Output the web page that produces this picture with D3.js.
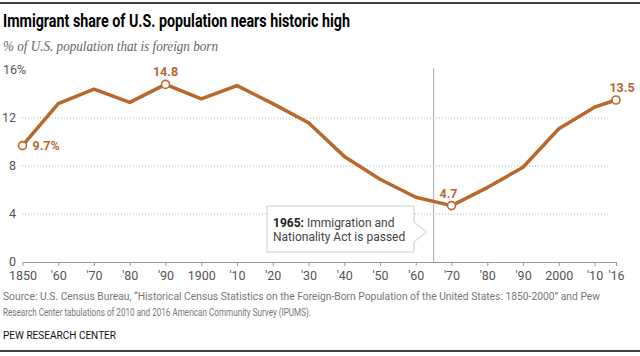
<!DOCTYPE html>
<html>
<head>
<meta charset="utf-8">
<script src="https://cdn.jsdelivr.net/npm/d3@7"></script>
<style>
  html, body { margin: 0; padding: 0; background: #fff; }
  svg { display: block; }
</style>
</head>
<body>
<script>
// ---- Data ----
const years = [1850, 1860, 1870, 1880, 1890, 1900, 1910, 1920, 1930, 1940, 1950, 1960, 1970, 1980, 1990, 2000, 2010, 2016];
const shares = [9.7, 13.2, 14.4, 13.3, 14.8, 13.6, 14.7, 13.2, 11.6, 8.8, 6.9, 5.4, 4.7, 6.2, 7.9, 11.1, 12.9, 13.5];
const xTickLabels = ["1850", "'60", "'70", "'80", "'90", "1900", "'10", "'20", "'30", "'40", "'50", "'60", "'70", "'80", "'90", "2000", "'10", "'16"];
const yTicks = [0, 4, 8, 12, 16];
const yTickLabels = ["0", "4", "8", "12", "16%"];
const labelledYears = [1850, 1890, 1970, 2016];
const labelledTexts = ["9.7%", "14.8", "4.7", "13.5"];
const eventYear = 1965;

const W = 640, H = 356;
const brown = "#b8682c";

const svg = d3.select("body").append("svg").attr("width", W).attr("height", H);

const x = d3.scaleLinear().domain([1850, 2016]).range([22.5, 616]);
const y = d3.scaleLinear().domain([0, 16]).range([262, 70]);

// top & bottom rules
svg.append("line").attr("x1", 0).attr("x2", W).attr("y1", 3).attr("y2", 3).attr("stroke", "#000").attr("stroke-width", 1.5);
svg.append("line").attr("x1", 0).attr("x2", W).attr("y1", 351).attr("y2", 351).attr("stroke", "#000").attr("stroke-width", 1.5);

// Title & subtitle
svg.append("text").attr("x", 3).attr("y", 27)
  .attr("font-family", "Roboto, 'Liberation Sans', sans-serif").attr("font-weight", "bold")
  .attr("font-size", 17.5).attr("fill", "#000")
  .attr("textLength", 347).attr("lengthAdjust", "spacingAndGlyphs")
  .text("Immigrant share of U.S. population nears historic high");
svg.append("text").attr("x", 3).attr("y", 51)
  .attr("font-family", "'Liberation Serif', 'DejaVu Serif', serif").attr("font-style", "italic")
  .attr("font-size", 14).attr("fill", "#666")
  .attr("textLength", 215).attr("lengthAdjust", "spacingAndGlyphs")
  .text("% of U.S. population that is foreign born");

// Gridlines (4, 8, 12)
svg.append("g").selectAll("line").data(yTicks.filter(d => d > 0 && d < 16)).join("line")
  .attr("x1", 22).attr("x2", 610)
  .attr("y1", d => y(d)).attr("y2", d => y(d))
  .attr("stroke", "#b5b5b5").attr("stroke-width", 1).attr("stroke-dasharray", "1,2");

// Y labels
svg.append("g").selectAll("text").data(yTicks).join("text")
  .attr("x", (d, i) => yTickLabels[i].endsWith("%") ? 3 : 16)
  .attr("y", d => y(d)).attr("dy", "0.35em")
  .attr("text-anchor", (d, i) => yTickLabels[i].endsWith("%") ? "start" : "end")
  .attr("font-family", "Roboto, 'Liberation Sans', sans-serif").attr("font-size", 12.5).attr("fill", "#555")
  .text((d, i) => yTickLabels[i]);

// X axis
const xAxis = d3.axisBottom(x).tickValues(years)
  .tickFormat((d, i) => xTickLabels[i]).tickSize(4).tickSizeOuter(0).tickPadding(5);
const gx = svg.append("g").attr("transform", `translate(0,${y(0)})`).call(xAxis);
gx.select(".domain").attr("stroke", "#999");
gx.selectAll(".tick line").attr("stroke", "#999");
gx.selectAll(".tick text").attr("font-family", "Roboto, 'Liberation Sans', sans-serif")
  .attr("font-size", 12.5).attr("fill", "#555");

// Event line 1965
svg.append("line").attr("x1", x(eventYear)).attr("x2", x(eventYear))
  .attr("y1", 68).attr("y2", y(0)).attr("stroke", "#aaa").attr("stroke-width", 1);

// Annotation box with pointer
const bx0 = 267, bx1 = 414, by0 = 206, by1 = 252, tipX = x(eventYear) - 7, tipY = 232;
svg.append("path")
  .attr("d", `M${bx0},${by0} H${bx1} V${tipY - 10} L${tipX},${tipY} L${bx1},${tipY + 10} V${by1} H${bx0} Z`)
  .attr("fill", "#fff").attr("stroke", "#ccc").attr("stroke-width", 1);
const ann = svg.append("text").attr("font-family", "Roboto, 'Liberation Sans', sans-serif")
  .attr("font-size", 12).attr("fill", "#444");
const l1 = ann.append("tspan").attr("x", 273).attr("y", 227);
l1.append("tspan").attr("font-weight", "bold").attr("fill", "#222").text("1965:");
l1.append("tspan").text(" Immigration and");
ann.append("tspan").attr("x", 273).attr("y", 241).text("Nationality Act is passed");

// Line
const pts = years.map((yr, i) => ({ year: yr, v: shares[i] }));
svg.append("path").datum(pts)
  .attr("d", d3.line().x(d => x(d.year)).y(d => y(d.v)))
  .attr("fill", "none").attr("stroke", brown).attr("stroke-width", 3.5)
  .attr("stroke-linejoin", "round");

// Markers on labelled points
const marked = pts.filter(d => labelledYears.includes(d.year));
svg.append("g").selectAll("circle").data(marked).join("circle")
  .attr("cx", d => x(d.year)).attr("cy", d => y(d.v)).attr("r", 4)
  .attr("fill", "#fff").attr("stroke", brown).attr("stroke-width", 1.6);

// Value labels
svg.append("g").selectAll("text").data(marked).join("text")
  .attr("x", d => d.year === 1850 ? x(d.year) + 10 : x(d.year) + (d.year === 2016 ? 6 : (d.year === 1970 ? -3 : 0)))
  .attr("y", d => d.year === 1850 ? y(d.v) : y(d.v) - 8)
  .attr("dy", d => d.year === 1850 ? "0.35em" : "0")
  .attr("text-anchor", d => d.year === 1850 ? "start" : "middle")
  .attr("font-family", "Roboto, 'Liberation Sans', sans-serif").attr("font-weight", "bold")
  .attr("font-size", 12.5).attr("fill", brown)
  .text(d => labelledTexts[labelledYears.indexOf(d.year)]);

// Source
const src = svg.append("text").attr("font-family", "Roboto, 'Liberation Sans', sans-serif")
  .attr("font-size", 10.5).attr("fill", "#777");
src.append("tspan").attr("x", 3).attr("y", 300)
  .attr("textLength", 597).attr("lengthAdjust", "spacingAndGlyphs")
  .text("Source: U.S. Census Bureau, \u201cHistorical Census Statistics on the Foreign-Born Population of the United States: 1850-2000\u201d and Pew");
src.append("tspan").attr("x", 3).attr("y", 316)
  .attr("textLength", 308).attr("lengthAdjust", "spacingAndGlyphs")
  .text("Research Center tabulations of 2010 and 2016 American Community Survey (IPUMS).");
svg.append("text").attr("x", 3).attr("y", 339)
  .attr("font-family", "Roboto, 'Liberation Sans', sans-serif").attr("font-size", 10.5).attr("fill", "#111")
  .attr("textLength", 113).attr("lengthAdjust", "spacingAndGlyphs")
  .text("PEW RESEARCH CENTER");
</script>
</body>
</html>
